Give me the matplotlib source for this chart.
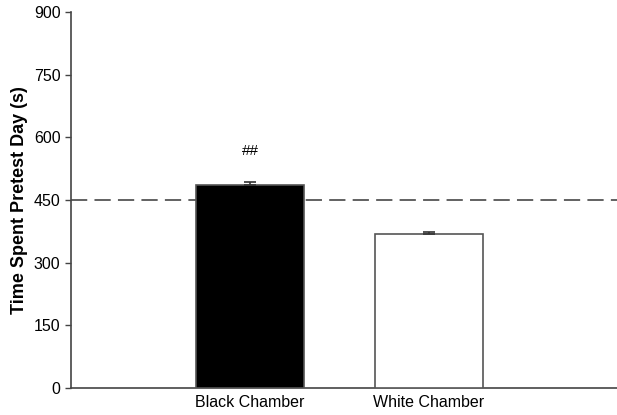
import matplotlib.pyplot as plt

plt.rcParams['font.family'] = ['Liberation Sans', 'DejaVu Sans']

# Data
groups = ["Black Chamber", "White Chamber"]
means = [486, 368]
sem = [6, 6]
bar_colors = ["black", "white"]
chance_level = 450
y_ticks = [0, 150, 300, 450, 600, 750, 900]

fig = plt.figure(figsize=(6.17, 4.15), dpi=100)
ax = fig.add_axes([0.115, 0.065, 0.885, 0.906])

x_pos = [1, 2]
ax.bar(x_pos, means, width=0.6, color=bar_colors, edgecolor="#555555",
       linewidth=1.2, zorder=3)
ax.errorbar(x_pos, means, yerr=[[0, 0], sem], fmt="none", ecolor="#333333",
            elinewidth=1.2, capsize=4, capthick=1.2, zorder=4)

# chance level
ax.axhline(chance_level, color="#555555", linestyle=(0, (9, 4)),
           linewidth=1.3, zorder=2)

# significance marker
ax.text(x_pos[0], means[0] + sem[0] + 75, "##", ha="center", va="center",
        fontsize=11)

ax.set_xlim(0, 3.05)
ax.set_ylim(0, 900)
ax.set_yticks(y_ticks)
ax.set_xticks(x_pos)
ax.set_xticklabels(groups)
ax.tick_params(axis="x", length=0, labelsize=11.5, pad=5)
ax.tick_params(axis="y", length=4, width=1, labelsize=11.5, color="#444444")
ax.set_ylabel("Time Spent Pretest Day (s)", fontsize=13, fontweight="bold",
              labelpad=4)

for side in ["top", "right"]:
    ax.spines[side].set_visible(False)
for side in ["left", "bottom"]:
    ax.spines[side].set_color("#444444")
    ax.spines[side].set_linewidth(1.2)

fig.savefig("out.png", dpi=100)
